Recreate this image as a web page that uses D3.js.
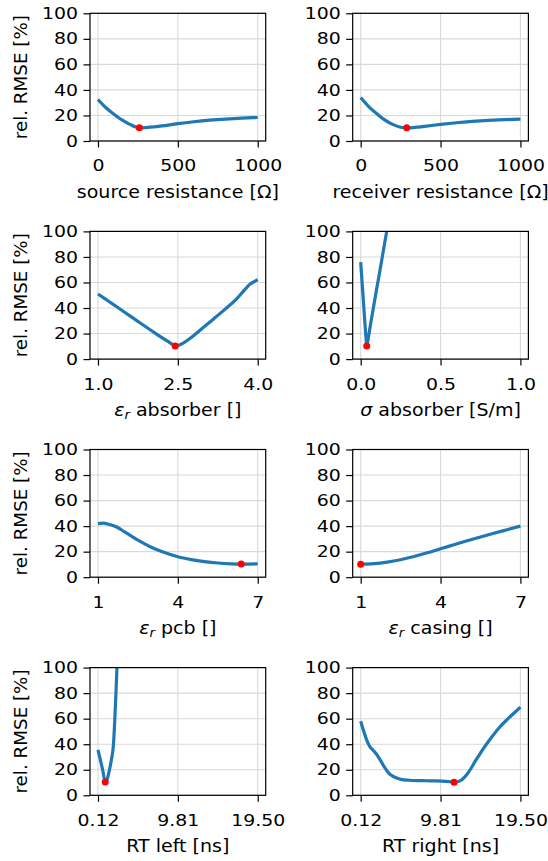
<!DOCTYPE html>
<html>
<head>
<meta charset="utf-8">
<script src="https://cdn.jsdelivr.net/npm/d3@7"></script>
<style>
  html, body { margin: 0; padding: 0; background: #fff; }
  svg { display: block; font-family: "DejaVu Sans", sans-serif; }
</style>
</head>
<body>
<svg id="chart" width="548" height="861"></svg>
<script>
// Relative RMSE [%] of the fit as each model parameter is swept on its own.
const yTicks = [0, 20, 40, 60, 80, 100];

const srcResX   = [0, 50, 100, 150, 200, 260, 300, 350, 400, 500, 600, 700, 800, 900, 1000];
const srcResErr = [32.5, 26, 21, 16.5, 13, 10.3, 10.5, 11, 11.8, 13.6, 15.1, 16.3, 17.2, 17.9, 18.4];
const srcResBest = [259, 10.3];

const rcvResX   = [0, 50, 100, 150, 200, 250, 288, 350, 400, 500, 600, 700, 800, 900, 1000];
const rcvResErr = [34, 27, 21.5, 16.5, 13, 10.8, 10.3, 10.8, 11.5, 13, 14.3, 15.3, 16.1, 16.7, 17.2];
const rcvResBest = [288, 10.3];

const epsAbsX   = [1.0, 1.2, 1.4, 1.6, 1.8, 2.0, 2.2, 2.3, 2.4, 2.45, 2.5, 2.6, 2.7, 2.8, 3.0, 3.2, 3.4, 3.6, 3.75, 3.85, 3.95, 4.0];
const epsAbsErr = [51, 45.3, 39.6, 33.8, 28.1, 22.4, 16.8, 14.2, 11.5, 10.3, 10.6, 12.5, 15.3, 18.5, 25.5, 32.5, 39.5, 47, 54, 58.5, 61, 62.3];
const epsAbsBest = [2.45, 10.3];

const sigAbsX   = [0, 0.01, 0.02, 0.03, 0.035, 0.038, 0.045, 0.06, 0.08, 0.1, 0.12, 0.14, 0.16, 0.18, 0.2];
const sigAbsErr = [76, 58, 40, 22, 14, 10.4, 14.5, 26, 40.5, 55, 69, 83.5, 98, 112, 126];
const sigAbsBest = [0.038, 10.3];

const epsPcbX   = [1, 1.2, 1.4, 1.7, 2, 2.5, 3, 3.5, 4, 4.5, 5, 5.5, 6, 6.4, 7];
const epsPcbErr = [42, 42.3, 41.5, 39.3, 35.5, 29, 23.5, 19.3, 16, 13.8, 12.2, 11.1, 10.5, 10.3, 10.5];
const epsPcbBest = [6.38, 10.3];

const epsCasX   = [1, 1.5, 2, 2.5, 3, 3.5, 4, 4.5, 5, 5.5, 6, 6.5, 7];
const epsCasErr = [10.2, 10.6, 11.8, 13.7, 16.2, 19.1, 22.3, 25.4, 28.5, 31.5, 34.4, 37.2, 40];
const epsCasBest = [1, 10.2];

const rtLeftX   = [0.12, 0.4, 0.7, 1.0, 1.25, 1.5, 1.75, 2.0, 2.15, 2.3, 2.42, 2.6];
const rtLeftErr = [35.5, 28, 19.5, 10.4, 13, 19.5, 28, 40, 58, 80, 100, 128];
const rtLeftBest = [1.0, 10.4];

const rtRightX   = [0.12, 0.5, 0.9, 1.25, 1.6, 2.0, 2.5, 3.0, 3.5, 4.0, 4.5, 5.0, 6.0, 7.0, 8.0, 9.0, 10.0, 11.0, 11.45, 12.0, 12.5, 13.0, 13.5, 14.0, 14.5, 15.0, 16.0, 17.0, 18.0, 19.0, 19.5];
const rtRightErr = [58, 50, 42.5, 38, 35.5, 32.5, 27.5, 22, 17.5, 15, 13.5, 12.5, 11.8, 11.5, 11.4, 11.3, 11.1, 10.6, 10.3, 10.8, 12.8, 16.3, 21, 26.5, 31.5, 36.5, 45.5, 53.5, 60, 66, 69];
const rtRightBest = [11.45, 10.3];

const resTicks = [0, 500, 1000];
const resTickLabels = ["0", "500", "1000"];
const epsAbsTicks = [1.0, 2.5, 4.0];
const epsAbsTickLabels = ["1.0", "2.5", "4.0"];
const sigTicks = [0, 0.5, 1.0];
const sigTickLabels = ["0.0", "0.5", "1.0"];
const epsTicks = [1, 4, 7];
const epsTickLabels = ["1", "4", "7"];
const rtTicks = [0.12, 9.81, 19.50];
const rtTickLabels = ["0.12", "9.81", "19.50"];

const panels = [
  { x: srcResX, y: srcResErr, best: srcResBest, ticks: resTicks, labels: resTickLabels, title: [["source resistance [Ω]"]] },
  { x: rcvResX, y: rcvResErr, best: rcvResBest, ticks: resTicks, labels: resTickLabels, title: [["receiver resistance [Ω]"]] },
  { x: epsAbsX, y: epsAbsErr, best: epsAbsBest, ticks: epsAbsTicks, labels: epsAbsTickLabels, title: [["ε", "it"], ["r", "sub"], [" absorber []"]] },
  { x: sigAbsX, y: sigAbsErr, best: sigAbsBest, ticks: sigTicks, labels: sigTickLabels, title: [["σ", "it"], [" absorber [S/m]"]] },
  { x: epsPcbX, y: epsPcbErr, best: epsPcbBest, ticks: epsTicks, labels: epsTickLabels, title: [["ε", "it"], ["r", "sub"], [" pcb []"]] },
  { x: epsCasX, y: epsCasErr, best: epsCasBest, ticks: epsTicks, labels: epsTickLabels, title: [["ε", "it"], ["r", "sub"], [" casing []"]] },
  { x: rtLeftX, y: rtLeftErr, best: rtLeftBest, ticks: rtTicks, labels: rtTickLabels, title: [["RT left [ns]"]] },
  { x: rtRightX, y: rtRightErr, best: rtRightBest, ticks: rtTicks, labels: rtTickLabels, title: [["RT right [ns]"]] }
];

// Grid layout of the 4 x 2 axes
const colLeft = [90, 352.7];
const axW = 175.7, axH = 127.7;
const rowTop0 = 13.3, rowStep = 218.1;
const tickFont = 16, tickStretch = 1.18, labelFont = 18.3, labelStretch = 1.04;

const svg = d3.select("#chart");

panels.forEach((p, i) => {
  const col = i % 2, row = Math.floor(i / 2);
  const x0 = colLeft[col], y0 = rowTop0 + row * rowStep;
  const g = svg.append("g").attr("transform", `translate(${x0},${y0})`);

  const lo = p.ticks[0], hi = p.ticks[p.ticks.length - 1], pad = (hi - lo) * 0.05;
  const x = d3.scaleLinear().domain([lo - pad, hi + pad]).range([0, axW]);
  const y = d3.scaleLinear().domain([0, 100]).range([axH, 0]);

  // grid
  g.append("g").selectAll("line").data(p.ticks).join("line")
    .attr("x1", d => x(d)).attr("x2", d => x(d)).attr("y1", 0).attr("y2", axH)
    .attr("stroke", "#d9d9d9").attr("stroke-width", 1.1);
  g.append("g").selectAll("line").data(yTicks).join("line")
    .attr("x1", 0).attr("x2", axW).attr("y1", d => y(d)).attr("y2", d => y(d))
    .attr("stroke", "#d9d9d9").attr("stroke-width", 1.1);

  // curve, clipped to the axes box
  const clipId = "clip" + i;
  g.append("clipPath").attr("id", clipId).append("rect")
    .attr("x", 0).attr("y", 0).attr("width", axW).attr("height", axH);
  const pts = p.x.map((v, k) => [v, p.y[k]]);
  g.append("path").datum(pts)
    .attr("clip-path", `url(#${clipId})`)
    .attr("fill", "none").attr("stroke", "#1f77b4").attr("stroke-width", 3.2)
    .attr("stroke-linejoin", "round")
    .attr("d", d3.line().x(d => x(d[0])).y(d => y(d[1])).curve(d3.curveMonotoneX));

  // best parameter value
  g.append("circle").attr("cx", x(p.best[0])).attr("cy", y(p.best[1]))
    .attr("r", 3.5).attr("fill", "#ff0000");

  // frame
  g.append("rect").attr("x", 0).attr("y", 0).attr("width", axW).attr("height", axH)
    .attr("fill", "none").attr("stroke", "#000").attr("stroke-width", 1.2);

  // axes
  const ax = g.append("g").attr("transform", `translate(0,${axH})`)
    .call(d3.axisBottom(x).tickValues(p.ticks).tickFormat((d, k) => p.labels[k]).tickSize(6.5).tickPadding(12.6));
  const ay = g.append("g")
    .call(d3.axisLeft(y).tickValues(yTicks).tickFormat(d3.format("d")).tickSize(6.5).tickPadding(5.5));
  [ax, ay].forEach(a => {
    a.select(".domain").remove();
    a.selectAll("line").attr("stroke", "#000").attr("stroke-width", 1.2);
    a.selectAll("text").attr("fill", "#000").style("font-size", tickFont + "px")
      .style("font-family", "DejaVu Sans");
  });
  // slightly wide tick lettering
  ax.selectAll("text").attr("transform", `scale(${tickStretch},1)`);
  ay.selectAll("text").attr("x", -12 / tickStretch).attr("transform", `scale(${tickStretch},1)`);

  // x-axis title
  const t = g.append("text").attr("x", axW / 2 / labelStretch).attr("y", axH + 57)
    .attr("transform", `scale(${labelStretch},1)`)
    .attr("text-anchor", "middle").style("font-size", labelFont + "px").attr("fill", "#000");
  p.title.forEach(([s, kind]) => {
    const ts = t.append("tspan").text(s);
    if (kind === "it") ts.attr("font-style", "italic");
    if (kind === "sub") ts.attr("font-style", "italic").attr("font-size", "0.7em").attr("dy", "0.25em");
    if (kind === undefined && p.title.some(q => q[1] === "sub")) ts.attr("dy", "-0.175em");
  });

  // y-axis title on the left column
  if (col === 0) {
    g.append("text").attr("transform", `translate(${27 - x0},${axH / 2}) rotate(-90)`)
      .attr("text-anchor", "middle").style("font-size", labelFont + "px").attr("fill", "#000")
      .text("rel. RMSE [%]");
  }
});
</script>
</body>
</html>
